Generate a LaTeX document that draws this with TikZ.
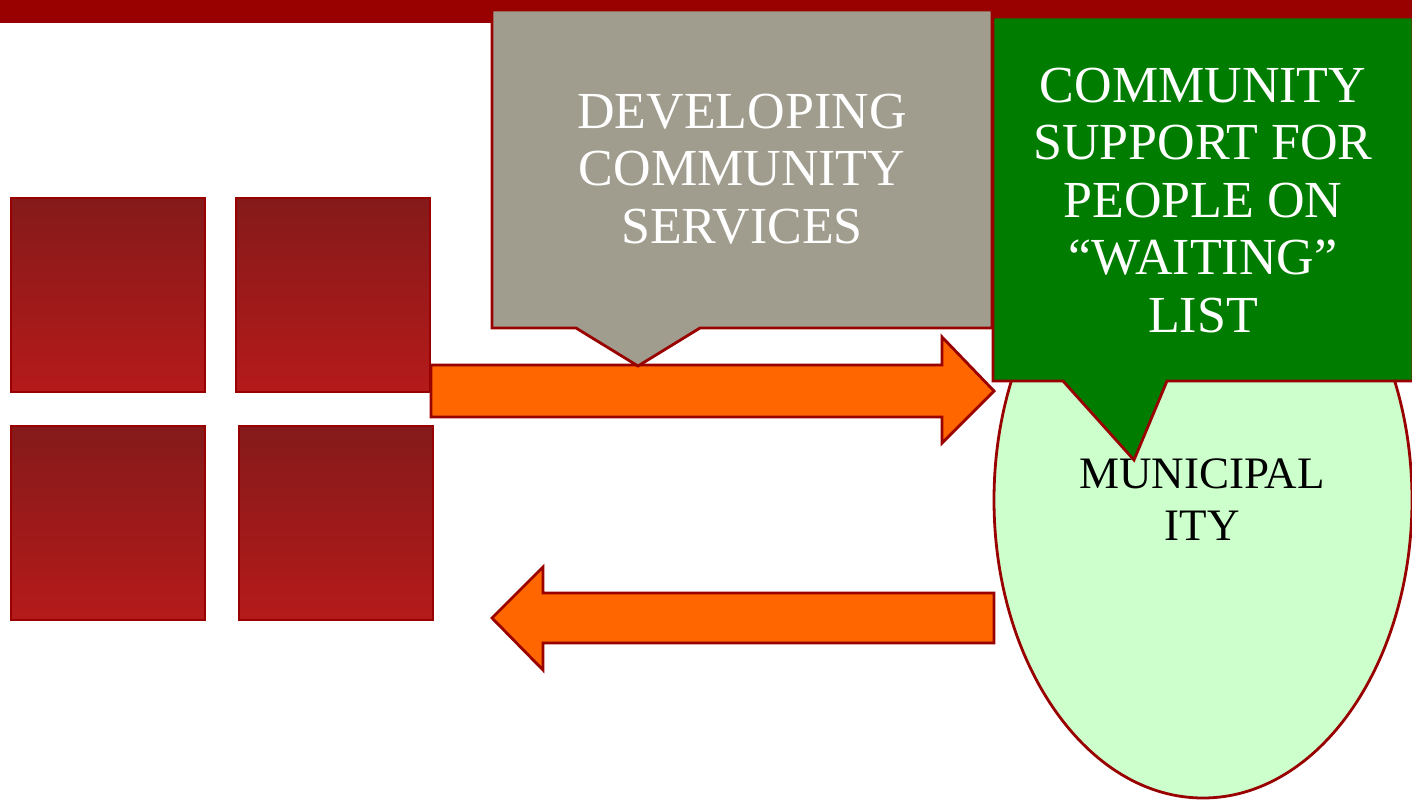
\documentclass[tikz,border=0pt]{standalone}
\usepackage{fontspec}
\setmainfont{Liberation Serif}
\usetikzlibrary{shapes.geometric}
\definecolor{barred}{HTML}{990000}
\definecolor{calgray}{HTML}{A09D8E}
\definecolor{calgreen}{HTML}{007D00}
\definecolor{palegreen}{HTML}{CCFFCC}
\definecolor{arrorange}{HTML}{FF6600}
\definecolor{sqtop}{HTML}{851A1A}
\definecolor{sqbot}{HTML}{B51A1A}
\tikzset{
  edge/.style={draw=barred, line width=2.8pt, line join=miter},
  square/.style={edge, top color=sqtop, bottom color=sqbot},
  bigarrow/.style={edge, fill=arrorange},
  bigtext/.style={font=\fontsize{52}{57}\selectfont, text=white, anchor=base, inner sep=0pt},
  munitext/.style={font=\fontsize{45}{52}\selectfont, text=black, anchor=base, inner sep=0pt},
}
\begin{document}
\begin{tikzpicture}[x=1pt,y=-1pt]
\useasboundingbox (0,0) rectangle (1412,800);
\fill[white] (0,0) rectangle (1412,800);
% top bar
\fill[barred] (0,0) rectangle (1412,23);
% squares
\path[square] (11,198) rectangle (205,392);
\path[square] (236,198) rectangle (430,392);
\path[square] (11,426) rectangle (205,620);
\path[square] (239,426) rectangle (433,620);
% ellipse
\node[ellipse, edge, fill=palegreen, minimum width=418pt, minimum height=596pt, inner sep=0pt] (muni) at (1203,500) {};
\node[munitext] (muni1) at (1202,488) {MUNICIPAL};
\node[munitext] (muni2) at (1202,540) {ITY};
% arrows
\path[bigarrow] (431,365) -- (942,365) -- (942,337) -- (994,391) -- (942,443) -- (942,417) -- (431,417) -- cycle;
\path[bigarrow] (994,593) -- (543,593) -- (543,567) -- (492,618) -- (543,670) -- (543,643) -- (994,643) -- cycle;
% gray callout
\path[edge, fill=calgray] (492,10) -- (992,10) -- (992,328) -- (700,328) -- (638,366) -- (576,328) -- (492,328) -- cycle;
\node[bigtext] (dev1) at (742,128) {DEVELOPING};
\node[bigtext] (dev2) at (742,185.5) {COMMUNITY};
\node[bigtext] (dev3) at (742,243) {SERVICES};
% green callout
\path[edge, fill=calgreen] (993,17) -- (1413,17) -- (1413,381) -- (1167,381) -- (1134,460) -- (1063,381) -- (993,381) -- cycle;
\node[bigtext] (cs1) at (1203,102) {COMMUNITY};
\node[bigtext] (cs2) at (1203,159.5) {SUPPORT FOR};
\node[bigtext] (cs3) at (1203,217) {PEOPLE ON};
\node[bigtext] (cs4) at (1203,274.5) {“WAITING”};
\node[bigtext] (cs5) at (1203,332) {LIST};
\end{tikzpicture}
\end{document}
